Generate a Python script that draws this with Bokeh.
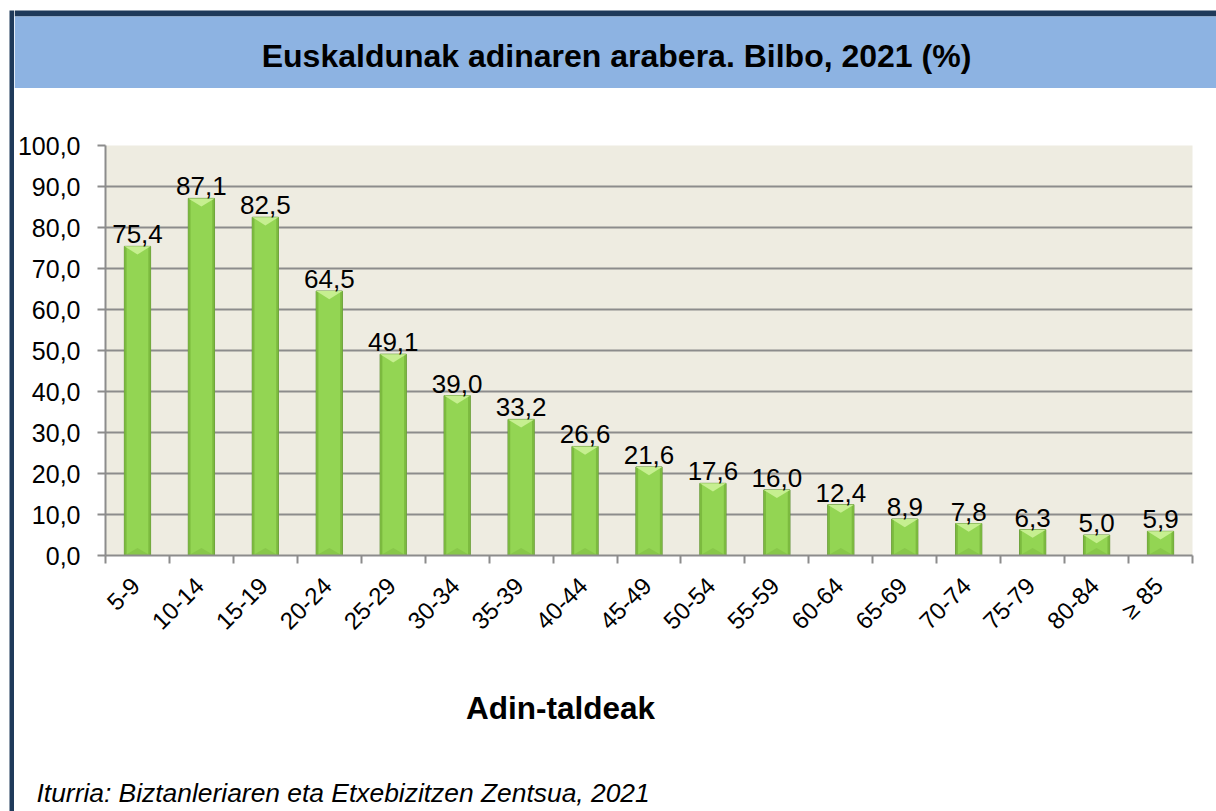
import math
from bokeh.plotting import figure
from bokeh.layouts import row, column
from bokeh.models import (FixedTicker, ColumnDataSource, Range1d, CustomJSTickFormatter)
from bokeh.embed import file_html
from bokeh.resources import INLINE
from bokeh.core.properties import value

# ---- data ----
categories = ["5-9", "10-14", "15-19", "20-24", "25-29", "30-34", "35-39", "40-44",
              "45-49", "50-54", "55-59", "60-64", "65-69", "70-74", "75-79", "80-84", "≥ 85"]
values = [75.4, 87.1, 82.5, 64.5, 49.1, 39.0, 33.2, 26.6, 21.6, 17.6, 16.0, 12.4,
          8.9, 7.8, 6.3, 5.0, 5.9]
y_ticks = [0, 10, 20, 30, 40, 50, 60, 70, 80, 90, 100]
y_tick_labels = ["0,0", "10,0", "20,0", "30,0", "40,0", "50,0", "60,0", "70,0",
                 "80,0", "90,0", "100,0"]
title_text = "Euskaldunak adinaren arabera. Bilbo, 2021 (%)"
x_title_text = "Adin-taldeak"
source_text = "Iturria: Biztanleriaren eta Etxebizitzen Zentsua, 2021"

FONT = "Liberation Sans"
DARK = "#1F3A5A"
BLUE = "#8DB3E2"
TOTAL_W, TOTAL_H = 1216, 811
STRIP_W = 14
CW = TOTAL_W - STRIP_W          # width of the right column
HEAD_H = 88
MAIN_H = 562
FOOT_H = TOTAL_H - HEAD_H - MAIN_H
BAR_W = 0.41
BEVEL = 2.0
LABEL_SHIFT = -0.03


def deco_fig(w, h):
    f = figure(width=w, height=h, x_range=Range1d(0, w), y_range=Range1d(h, 0),
               output_backend="svg", toolbar_location=None,
               x_axis_location=None, y_axis_location=None,
               min_border=0, min_border_left=0, min_border_right=0,
               min_border_top=0, min_border_bottom=0, frame_align=False)
    f.grid.visible = False
    f.outline_line_color = None
    f.background_fill_color = "white"
    f.border_fill_color = "white"
    return f


# ---- left dark strip ----
strip = deco_fig(STRIP_W, TOTAL_H)
strip.quad(left=[9], right=[STRIP_W], top=[10], bottom=[TOTAL_H],
           fill_color=DARK, line_color=None)

# ---- header ----
head = deco_fig(CW, HEAD_H)
head.quad(left=[0], right=[CW], top=[10], bottom=[16], fill_color=DARK, line_color=None)
head.quad(left=[0], right=[CW], top=[16], bottom=[HEAD_H], fill_color=BLUE, line_color=None)
head.text(x=[602], y=[55], text=[title_text], text_align="center",
          text_baseline="alphabetic", text_font=value(FONT), text_font_size="32px",
          text_font_style="bold", text_color="black")

# ---- main chart ----
xpos = list(range(len(categories)))
labels = [f"{v:.1f}".replace(".", ",") for v in values]
src = ColumnDataSource(dict(x=xpos, top=values, lab=labels))

p = figure(width=CW, height=MAIN_H, x_range=Range1d(-0.5, len(categories) - 0.5),
           y_range=Range1d(0, 100), output_backend="svg", toolbar_location=None,
           min_border_left=91, min_border_right=24, min_border_top=57,
           min_border_bottom=95, frame_align=False)
p.background_fill_color = "#EEECE1"
p.border_fill_color = "white"
p.outline_line_color = None

p.xgrid.grid_line_color = None
p.ygrid.ticker = FixedTicker(ticks=y_ticks)
p.ygrid.grid_line_color = "#8C8C8C"
p.ygrid.grid_line_width = 2

ya = p.yaxis[0]
ya.ticker = FixedTicker(ticks=y_ticks)
ya.major_label_overrides = dict(zip(y_ticks, y_tick_labels))
ya.major_label_text_font = FONT
ya.major_label_text_font_size = "25px"
ya.major_label_text_color = "black"
ya.major_tick_out = 8
ya.major_tick_in = 0
ya.minor_tick_line_color = None
ya.major_tick_line_color = "#8C8C8C"
ya.major_tick_line_width = 2
ya.axis_line_color = "#8C8C8C"
ya.axis_line_width = 2
ya.major_label_standoff = 17

xa = p.xaxis[0]
xa.ticker = FixedTicker(ticks=[x + LABEL_SHIFT for x in xpos],
                        minor_ticks=[i - 0.5 for i in range(len(categories) + 1)])
xa.formatter = CustomJSTickFormatter(args=dict(labels=categories, shift=LABEL_SHIFT),
                                     code="return labels[Math.round(tick - shift)];")
xa.major_label_text_font = FONT
xa.major_label_text_font_size = "24px"
xa.major_label_text_color = "black"
xa.major_label_orientation = math.pi / 4
xa.major_tick_out = 0
xa.major_tick_in = 0
xa.major_tick_line_color = None
xa.minor_tick_out = 8
xa.minor_tick_in = 0
xa.minor_tick_line_color = "#8C8C8C"
xa.minor_tick_line_width = 2
xa.axis_line_color = "#8C8C8C"
xa.axis_line_width = 2
xa.major_label_standoff = 18

# bars with bevel
p.vbar(x="x", top="top", bottom=0, width=BAR_W, source=src,
       fill_color="#93D553", line_color="#64923A", line_width=1)
edge = 0.035
p.vbar(x=[x - BAR_W / 2 + edge / 2 for x in xpos], top=values, bottom=0, width=edge,
       fill_color="#7CBA3F", line_color=None)
p.vbar(x=[x + BAR_W / 2 - edge / 2 for x in xpos], top=values, bottom=0, width=edge,
       fill_color="#7CBA3F", line_color=None)
tri_xs = [[x - BAR_W / 2, x + BAR_W / 2, x] for x in xpos]
tri_ys = [[v, v, v - BEVEL] for v in values]
p.patches(tri_xs, tri_ys, fill_color="#C6EF90", line_color=None)
bot_ys = [[0, 0, BEVEL * 0.9] for v in values]
p.patches(tri_xs, bot_ys, fill_color="#88C74A", line_color=None)

p.text(x="x", y="top", text="lab", source=src, text_align="center",
       text_baseline="alphabetic", y_offset=-12, text_font=value(FONT),
       text_font_size="26px", text_color="black")

# ---- footer ----
foot = deco_fig(CW, FOOT_H)
foot.text(x=[546], y=[57], text=[x_title_text], text_align="center",
          text_baseline="alphabetic", text_font=value(FONT), text_font_size="31.5px",
          text_font_style="bold", text_color="black")
foot.text(x=[22], y=[142], text=[source_text], text_align="left",
          text_baseline="alphabetic", text_font=value(FONT), text_font_size="26.4px",
          text_font_style="italic", text_color="black")

layout = row(strip, column(head, p, foot, spacing=0), spacing=0)

open("out.html", "w").write(file_html(layout, INLINE))
